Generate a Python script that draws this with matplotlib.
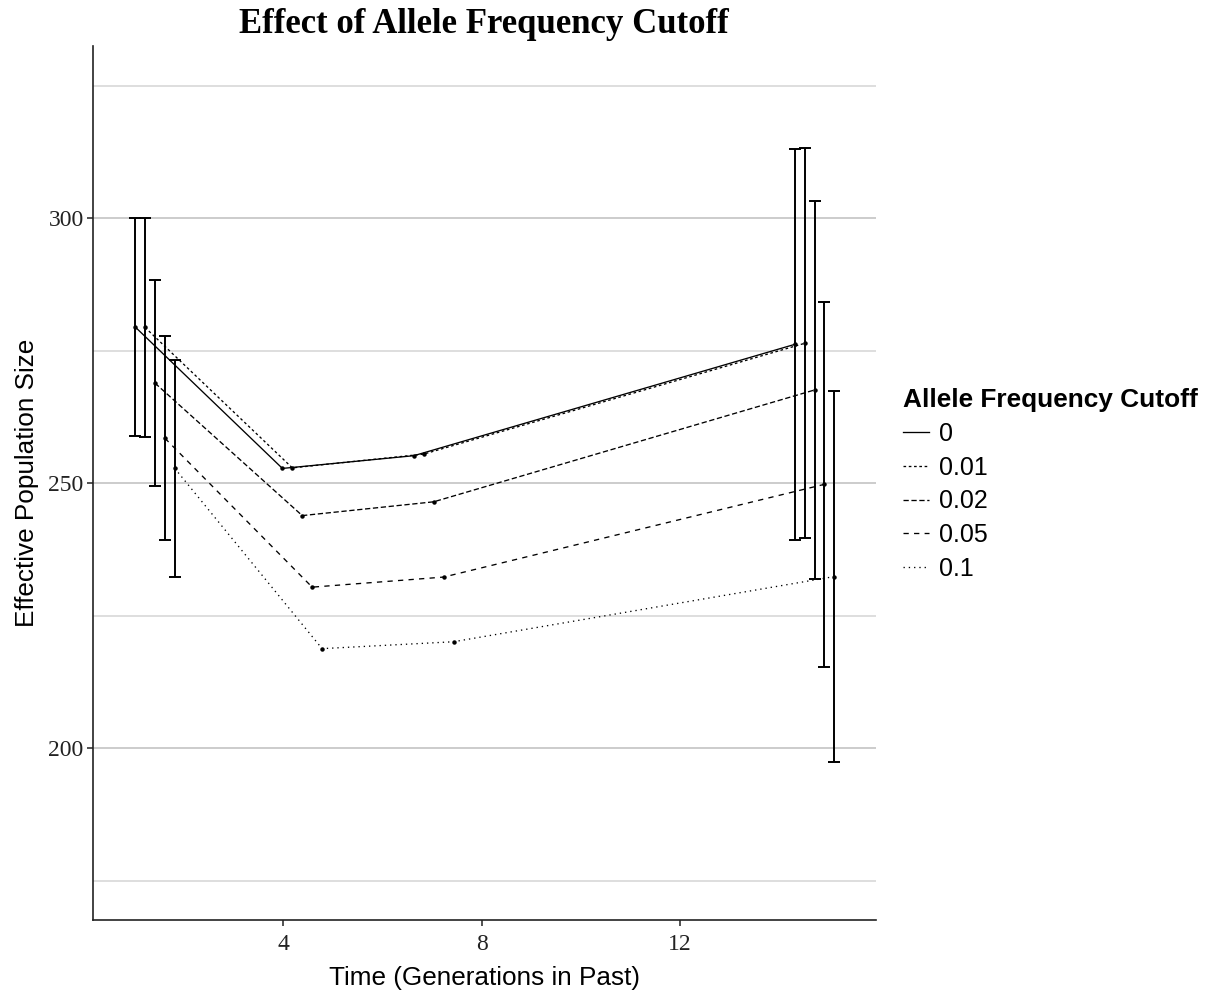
import numpy as np
import matplotlib.pyplot as plt
from matplotlib.ticker import MultipleLocator

# data
cutoffs = ['0', '0.01', '0.02', '0.05', '0.1']
x_centers = [1.41, 4.38, 7.03, 14.71]
ne = {
    '0':    [279.5, 252.8, 255.2, 276.2],
    '0.01': [279.4, 252.9, 255.5, 276.4],
    '0.02': [268.9, 243.9, 246.5, 267.6],
    '0.05': [258.5, 230.4, 232.3, 249.8],
    '0.1':  [252.8, 218.8, 220.1, 232.4],
}
# half width of the error bars (only first and last time points have them)
err = {
    '0':    [20.6, np.nan, np.nan, 36.9],
    '0.01': [20.6, np.nan, np.nan, 36.8],
    '0.02': [19.4, np.nan, np.nan, 35.7],
    '0.05': [19.2, np.nan, np.nan, 34.4],
    '0.1':  [20.5, np.nan, np.nan, 35.0],
}
dodge = [-0.4, -0.2, 0.0, 0.2, 0.4]
dashes = [None, (2, 2), (4, 2), (4, 4), (1, 3)]

fig = plt.figure(figsize=(12.09, 9.97), dpi=100)
ax = fig.add_axes([0.0773, 0.0772, 0.6473, 0.8767])

for i, c in enumerate(cutoffs):
    x = np.array(x_centers) + dodge[i]
    y = np.array(ne[c])
    kw = dict(color='black', lw=0.95)
    if dashes[i] is None:
        ax.plot(x, y, ls='-', label=c, **kw)
    else:
        ax.plot(x, y, ls=(0, dashes[i]), label=c, **kw)
    ax.plot(x, y, 'o', color='black', ms=2.2, zorder=3)
    e = np.array(err[c])
    ok = ~np.isnan(e)
    ax.errorbar(x[ok], y[ok], yerr=e[ok], fmt='none', ecolor='black',
                elinewidth=1.4, capsize=4.6, capthick=1.4)

ax.set_xlim(0.17, 15.95)
ax.set_ylim(167.6, 332.5)
ax.set_xticks([4, 8, 12])
ax.set_yticks([200, 250, 300])
ax.yaxis.set_minor_locator(MultipleLocator(25))
ax.grid(axis='y', which='major', color='#c4c4c4', lw=1.2)
ax.grid(axis='y', which='minor', color='#d4d4d4', lw=1.1)
ax.tick_params(axis='y', which='minor', length=0)
ax.set_axisbelow(True)

for s in ['top', 'right']:
    ax.spines[s].set_visible(False)
for s in ['left', 'bottom']:
    ax.spines[s].set_color('#222222')
    ax.spines[s].set_linewidth(1.2)
ax.tick_params(which='major', length=4, width=1.1, color='#222222')
ax.tick_params(axis='x', pad=6)
ax.tick_params(axis='y', pad=3)
for lab in ax.get_xticklabels() + ax.get_yticklabels():
    lab.set_family('Liberation Serif')
    lab.set_fontsize(17)
    lab.set_color('#222222')

ax.set_xlabel('Time (Generations in Past)', family='Liberation Sans', fontsize=18.8, labelpad=8)
ax.set_ylabel('Effective Population Size', family='Liberation Sans', fontsize=18.8, labelpad=7)
fig.text(0.40, 0.975, 'Effect of Allele Frequency Cutoff', ha='center', va='center',
         family='Liberation Serif', weight='bold', fontsize=25)

leg = fig.legend(*ax.get_legend_handles_labels(), loc='center left',
                 bbox_to_anchor=(0.728, 0.514), frameon=False,
                 prop={'family': 'Liberation Sans', 'size': 18},
                 title='Allele Frequency Cutoff', handlelength=1.05,
                 handletextpad=0.4, labelspacing=0.39, alignment='left')
leg.get_title().set_family('Liberation Sans')
leg.get_title().set_weight('bold')
leg.get_title().set_fontsize(18.9)

fig.savefig('out.png', dpi=100)
